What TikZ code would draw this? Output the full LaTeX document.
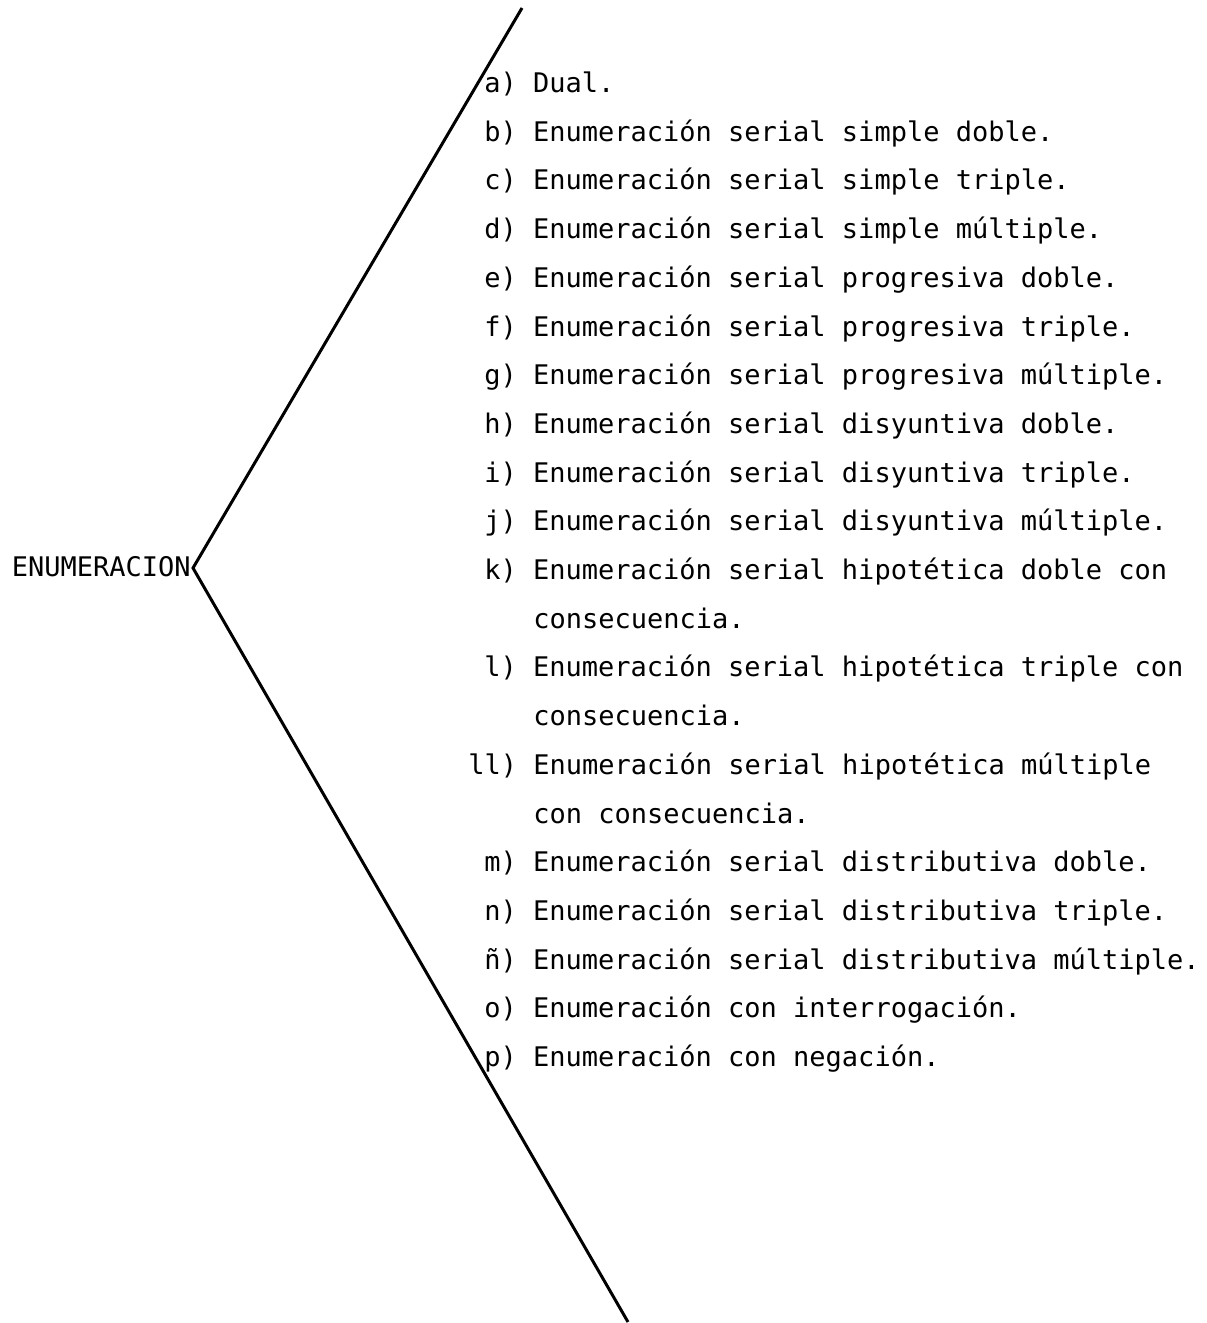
\documentclass[tikz,border=0pt]{standalone}
\usepackage{fontspec}
\usepackage{tikz}
\newfontfamily\typerfont{DejaVu Sans Mono}
\newcommand{\itemfont}{\typerfont\fontsize{13.5pt}{16pt}\selectfont}

\begin{document}
\begin{tikzpicture}[x=0.5pt,y=-0.5pt,
  item/.style={anchor=base west,inner sep=0pt,font=\itemfont}]
\useasboundingbox (0,0) rectangle (1206,1323);
\node[anchor=east,inner sep=0pt,font=\itemfont] (enum) at (191,567) {ENUMERACION};
\coordinate (top) at (522,8);
\coordinate (apex) at (193,568); %vertex
\coordinate (bottom) at (628,1322);
\draw[line width=1.5pt] (top) -- (apex) -- (bottom);
\node[item] (a) at (484,92) {a) Dual.};
\node[item] (b) at (484,141) {b) Enumeración serial simple doble.};
\node[item] (c) at (484,189) {c) Enumeración serial simple triple.};
\node[item] (d) at (484,238) {d) Enumeración serial simple múltiple.};
\node[item] (e) at (484,287) {e) Enumeración serial progresiva doble.};
\node[item] (f) at (484,336) {f) Enumeración serial progresiva triple.};
\node[item] (g) at (484,384) {g) Enumeración serial progresiva múltiple.};
\node[item] (h) at (484,433) {h) Enumeración serial disyuntiva doble.};
\node[item] (i) at (484,482) {i) Enumeración serial disyuntiva triple.};
\node[item] (j) at (484,530) {j) Enumeración serial disyuntiva múltiple.};
\node[item] (k) at (484,579) {k) Enumeración serial hipotética doble con};
\node[item] (k2) at (533,628) {consecuencia.};
\node[item] (l) at (484,676) {l) Enumeración serial hipotética triple con};
\node[item] (l2) at (533,725) {consecuencia.};
\node[item] (ll) at (468,774) {ll) Enumeración serial hipotética múltiple};
\node[item] (ll2) at (533,823) {con consecuencia.};
\node[item] (m) at (484,871) {m) Enumeración serial distributiva doble.};
\node[item] (n) at (484,920) {n) Enumeración serial distributiva triple.};
\node[item] (nn) at (484,969) {ñ) Enumeración serial distributiva múltiple.};
\node[item] (o) at (484,1017) {o) Enumeración con interrogación.};
\node[item] (p) at (484,1066) {p) Enumeración con negación.};
\end{tikzpicture}
\end{document}
